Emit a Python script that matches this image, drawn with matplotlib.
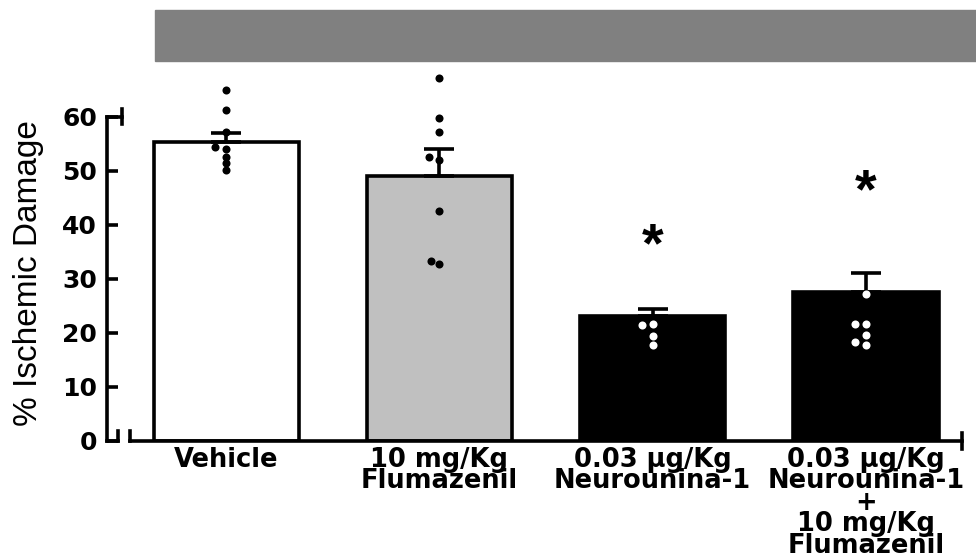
import matplotlib
matplotlib.use("Agg")
import matplotlib.pyplot as plt
from matplotlib.patches import Rectangle

# ---- data ----
categories = ["Vehicle", "10 mg/Kg\nFlumazenil", "0.03 \u03bcg/Kg\nNeurounina-1",
              "0.03 \u03bcg/Kg\nNeurounina-1\n+\n10 mg/Kg\nFlumazenil"]
means = [55.4, 49.1, 23.1, 27.6]
sem = [1.7, 4.9, 1.4, 3.6]
bar_colors = ["white", "#c0c0c0", "black", "black"]
dot_colors = ["black", "black", "white", "white"]
points = [
    [65.0, 61.3, 57.3, 54.5, 54.0, 52.6, 51.5, 50.2],
    [67.2, 59.9, 57.3, 52.6, 52.0, 42.5, 33.4, 32.8],
    [32.1, 21.6, 21.4, 19.5, 17.7],
    [42.4, 42.4, 34.2, 34.2, 27.2, 21.7, 21.7, 19.6, 18.3, 17.7],
]
point_offsets = [
    [0, 0, 0, -0.05, 0, 0, 0, 0],
    [0, 0, 0, -0.05, 0, 0, -0.04, 0],
    [0, 0, -0.05, 0, 0],
    [-0.05, 0, -0.05, 0, 0, -0.05, 0, 0, -0.05, 0],
]
star_y = [None, None, 35.9, 45.9]
yticks = [0, 10, 20, 30, 40, 50, 60]
ylabel = "% Ischemic Damage"

plt.rcParams['font.family'] = ['DejaVu Sans']

fig = plt.figure(figsize=(9.76, 5.6), dpi=100)
ax = fig.add_axes([107/976, (560-441)/560, (962-107)/976, 378/560])

x = list(range(len(categories)))
ax.bar(x, means, width=0.68, color=bar_colors, edgecolor="black", linewidth=2.6, zorder=2)
ax.errorbar(x, means, yerr=[[0]*len(sem), sem], fmt='none', ecolor='black',
            elinewidth=2.6, capsize=11, capthick=2.6, zorder=3)
for i, (pts, offs) in enumerate(zip(points, point_offsets)):
    ax.plot([i + o for o in offs], pts, 'o', color=dot_colors[i], markersize=5.8,
            markeredgewidth=0, zorder=4, clip_on=False)
for i, s in enumerate(star_y):
    if s is not None:
        ax.text(i, s, "*", ha='center', va='center', fontsize=40, fontweight='bold',
                family='Liberation Sans')

ax.set_xlim(-0.558, 3.45)
ax.set_ylim(0, 70)
ax.set_yticks(yticks)
ax.set_yticklabels([str(t) for t in yticks], fontsize=18, fontweight='bold')
ax.set_xticks(x)
ax.set_xticklabels(categories, fontsize=18.5, fontweight='bold', linespacing=0.78, va='top')
ax.tick_params(axis='x', length=0, pad=4)
ax.tick_params(axis='y', direction='in', length=8, width=2.6, pad=7)
ax.set_ylabel(ylabel, fontsize=24, family='Liberation Sans')
ax.yaxis.set_label_coords(-(107 - 44) / 855, 0.444)

for sp in ['top', 'right']:
    ax.spines[sp].set_visible(False)
ax.spines['left'].set_linewidth(2.6)
ax.spines['left'].set_bounds(0, 60)
ax.spines['bottom'].set_linewidth(2.6)
ax.spines['bottom'].set_bounds(-0.45, 3.45)

lw = 2.6
# axis break at lower-left
ax.plot([-0.558, -0.506], [0, 0], color='black', lw=lw, clip_on=False, solid_capstyle='projecting')
ax.plot([-0.506, -0.506], [0, 1.9], color='black', lw=lw, clip_on=False)
ax.plot([-0.45, -0.45], [0, 1.9], color='black', lw=lw, clip_on=False)
# top cap of y axis
ax.plot([-0.558, -0.488], [60, 60], color='black', lw=lw, clip_on=False)
ax.plot([-0.488, -0.488], [58.7, 61.4], color='black', lw=lw, clip_on=False)
# right end cap of x axis
ax.plot([3.45, 3.45], [-1.5, 1.5], color='black', lw=lw, clip_on=False)

fig.add_artist(Rectangle((155/976, 1-61/560), (976-155)/976, 51/560,
                         transform=fig.transFigure, color='#808080', zorder=0))

fig.savefig("out.png", dpi=100)
